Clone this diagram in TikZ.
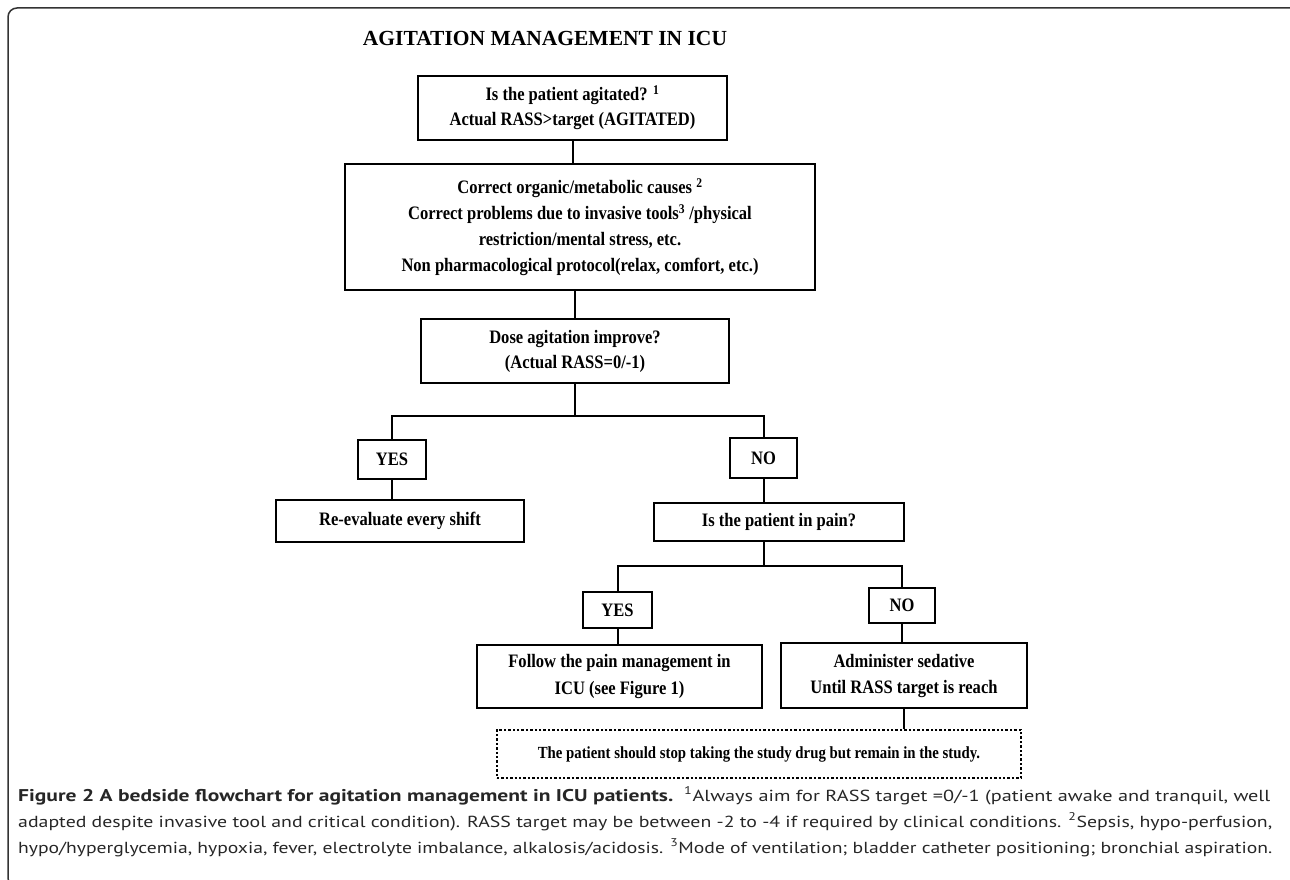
\documentclass[tikz,border=0pt]{standalone}
\usepackage{fontspec}
\usepackage{graphicx}
\setmainfont{Liberation Serif}
\newfontfamily\chartfont[FakeStretch=0.87]{Liberation Serif}
\newfontfamily\capfont{PT Sans}
\usetikzlibrary{calc}

\tikzset{
  flowbox/.style={draw, line width=2pt, align=center, inner sep=3pt,
    font=\chartfont\fontsize{19}{25}\selectfont\bfseries},
  notebox/.style={draw, line width=2.6pt, dash pattern=on 2.4pt off 2pt,
    align=center, inner sep=3pt, font=\chartfont\fontsize{17}{20}\selectfont\bfseries},
  link/.style={line width=2pt},
  capline/.style={anchor=base west, inner sep=0pt, text=black!85,
    font=\capfont\fontsize{16}{20}\selectfont}
}

\begin{document}
\begin{tikzpicture}[x=1pt,y=-1pt]

\useasboundingbox (0,0) rectangle (1290,880);

\draw [line width=1.5pt, black!80, rounded corners=9pt] (1296,8) -- (8,8) -- (8,887) -- (20,887);

\node [font=\fontsize{21.5}{24}\selectfont\bfseries] (title) at (545,38) {AGITATION MANAGEMENT IN ICU};

\node [flowbox, minimum width=309pt, minimum height=64pt] (agit) at (572.5,108)
  {Is the patient agitated? \textsuperscript{1}\\Actual RASS>target (AGITATED)};

\node [flowbox, minimum width=470pt, minimum height=126pt, font=\chartfont\fontsize{19}{26}\selectfont\bfseries] (causes) at (580,227)
  {Correct organic/metabolic causes \textsuperscript{2}\\
   Correct problems due to invasive tools\textsuperscript{3} /physical\\
   restriction/mental stress, etc.\\
   Non pharmacological protocol(relax, comfort, etc.)};

\node [flowbox, minimum width=308pt, minimum height=64pt] (improve) at (575,351)
  {Dose agitation improve?\\(Actual RASS=0/-1)};

\node [flowbox, minimum width=68pt, minimum height=39pt] (yesA) at (392,459.5) {YES};
\node [flowbox, minimum width=67pt, minimum height=40pt] (noA) at (763.5,458) {NO};

\node [flowbox, minimum width=248pt, minimum height=42pt] (reeval) at (400,521) {Re-evaluate every shift};
\node [flowbox, minimum width=250pt, minimum height=38pt] (pain) at (779,522) {Is the patient in pain?};

\node [flowbox, minimum width=69pt, minimum height=36pt] (yesB) at (617.5,610) {YES};
\node [flowbox, minimum width=66pt, minimum height=35pt] (noB) at (902,605.5) {NO};

\node [flowbox, minimum width=285pt, minimum height=63pt, font=\chartfont\fontsize{19}{26.5}\selectfont\bfseries] (follow) at (619.5,676.5)
  {Follow the pain management in\\ICU (see Figure 1)};
\node [flowbox, minimum width=246pt, minimum height=65pt, font=\chartfont\fontsize{19}{26}\selectfont\bfseries] (sedate) at (904,675.5)
  {Administer sedative\\Until RASS target is reach};

\node [notebox, minimum width=524pt, minimum height=48pt] (stop) at (759,754)
  {The patient should stop taking the study drug but remain in the study.};

\draw [link] (agit.south) -- (agit.south |- causes.north);
\draw [link] (improve.north) -- (improve.north |- causes.south);

\draw [link] (improve.south) -- ++(0,32) coordinate (forkA) -| (yesA.north);
\draw [link] (forkA) -| (noA.north);
\draw [link] (yesA.south) -- (yesA.south |- reeval.north);
\draw [link] (noA.south) -- (noA.south |- pain.north);

\draw [link] (noA.south |- pain.south) -- ++(0,24) coordinate (forkB) -| (yesB.north);
\draw [link] (forkB) -| (noB.north);
\draw [link] (yesB.south) -- (yesB.south |- follow.north);
\draw [link] (noB.south) -- (noB.south |- sedate.north);
\draw [link] (sedate.south) -- (sedate.south |- stop.north);

\node [capline] (capA) at (18,801) {\resizebox{1252pt}{\height}{{\fontsize{17}{20}\selectfont\bfseries Figure 2 A bedside flowchart for agitation management in ICU patients.}\ \ \textsuperscript{1}Always aim for RASS target =0/-1 (patient awake and tranquil, well}};
\node [capline] (capB) at (18,827) {\resizebox{1254pt}{\height}{adapted despite invasive tool and critical condition). RASS target may be between -2 to -4 if required by clinical conditions. \textsuperscript{2}Sepsis, hypo-perfusion,}};
\node [capline] (capC) at (18,853) {\resizebox{1254pt}{\height}{hypo/hyperglycemia, hypoxia, fever, electrolyte imbalance, alkalosis/acidosis. \textsuperscript{3}Mode of ventilation; bladder catheter positioning; bronchial aspiration.}};

\end{tikzpicture}
\end{document}
